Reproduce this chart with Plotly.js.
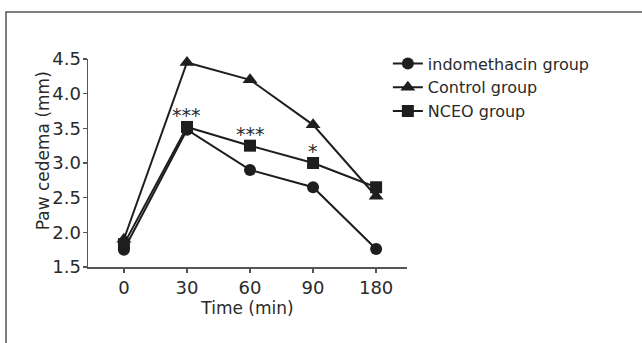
<!DOCTYPE html>
<html>
<head>
<meta charset="utf-8">
<script src="https://cdn.plot.ly/plotly-3.0.1.min.js"></script>
<style>html,body{margin:0;padding:0;background:#fff;}#chart{width:642px;height:343px;}</style>
</head>
<body>
<div id="chart"></div>
<script>
// Data
const times = ['0', '30', '60', '90', '180'];
const indomethacin = [1.75, 3.48, 2.90, 2.65, 1.76];
const control = [1.90, 4.45, 4.20, 3.55, 2.52];
const nceo = [1.83, 3.52, 3.25, 3.00, 2.65];
const sigLabels = ['', '***', '***', '*', ''];
const seriesNames = ['indomethacin group', 'Control group', 'NCEO group'];

const FONT = '"DejaVu Sans", sans-serif';
const INK = '#1e1e1e';
const TXT = '#2a2a2a';

function trace(name, y, symbol, size) {
  return {
    x: times, y: y, name: name, type: 'scatter', mode: 'lines+markers',
    line: {color: INK, width: 2},
    marker: {symbol: symbol, size: size, color: INK},
    cliponaxis: false
  };
}

const data = [
  trace(seriesNames[0], indomethacin, 'circle', 12),
  trace(seriesNames[1], control, 'triangle-up', 13),
  trace(seriesNames[2], nceo, 'square', 12)
];

const annotations = [];
sigLabels.forEach((s, i) => {
  if (s) annotations.push({
    x: i, y: nceo[i], xref: 'x', yref: 'y', text: s, showarrow: false,
    yshift: 12, font: {family: FONT, size: 19, color: TXT}
  });
});
annotations.push({
  xref: 'paper', yref: 'paper', x: -0.142, y: 0.56, xanchor: 'center', yanchor: 'middle',
  text: 'Paw cedema (mm)', textangle: -90, showarrow: false,
  font: {family: FONT, size: 17, color: TXT}
});

const layout = {
  width: 642, height: 343,
  margin: {l: 88, r: 235, t: 59, b: 76},
  paper_bgcolor: '#fff', plot_bgcolor: '#fff',
  font: {family: FONT, size: 17, color: TXT},
  showlegend: true,
  legend: {x: 0.94, y: 1.06, xanchor: 'left', yanchor: 'top', itemwidth: 30,
           font: {family: FONT, size: 16, color: TXT}, tracegroupgap: 0, bgcolor: 'rgba(0,0,0,0)'},
  xaxis: {
    type: 'category', range: [-0.57, 4.49], showgrid: false, zeroline: false,
    showline: true, linecolor: '#555', linewidth: 1.5,
    ticks: 'outside', ticklen: 4, tickcolor: '#555', tickwidth: 1.5,
    tickfont: {family: FONT, size: 18, color: TXT},
    title: {text: 'Time (min)', font: {family: FONT, size: 17, color: TXT}, standoff: 0}
  },
  yaxis: {
    range: [1.5, 4.5], dtick: 0.5, tick0: 1.5, tickformat: '.1f',
    showgrid: false, zeroline: false,
    showline: true, linecolor: '#555', linewidth: 1.5,
    ticks: 'outside', ticklen: 4, tickcolor: '#555', tickwidth: 1.5,
    ticklabelstandoff: -2,
    tickfont: {family: FONT, size: 18, color: TXT}
  },
  annotations: annotations,
  shapes: [{
    type: 'path', xref: 'paper', yref: 'paper',
    path: 'M -0.257,-0.4 L -0.257,1.226 L 1.76,1.226',
    line: {color: '#555', width: 1.5}
  }]
};

Plotly.newPlot('chart', data, layout, {displayModeBar: false, staticPlot: true});
</script>
</body>
</html>
